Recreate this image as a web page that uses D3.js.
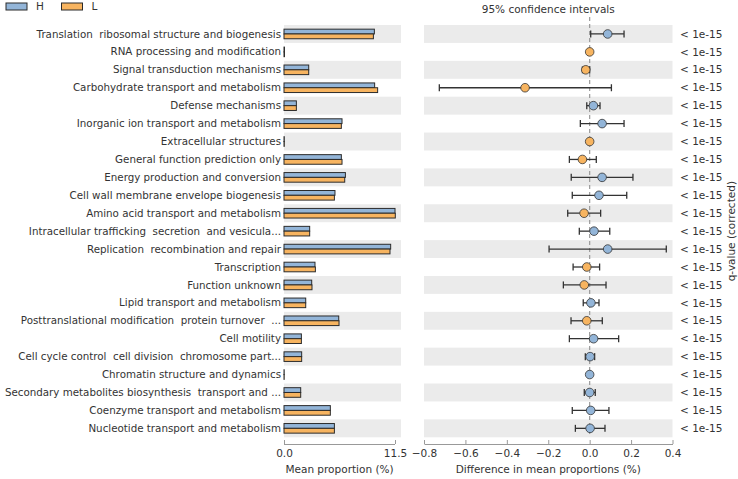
<!DOCTYPE html>
<html>
<head>
<meta charset="utf-8">
<script src="https://cdn.jsdelivr.net/npm/d3@7"></script>
<style>
  body { margin: 0; background: #fff; }
  svg { font-family: "DejaVu Sans", sans-serif; }
  svg text { white-space: pre; }
</style>
</head>
<body>
<svg id="chart" width="738" height="479"></svg>
<script>
// categories (top to bottom)
var categories = [
  "Translation  ribosomal structure and biogenesis",
  "RNA processing and modification",
  "Signal transduction mechanisms",
  "Carbohydrate transport and metabolism",
  "Defense mechanisms",
  "Inorganic ion transport and metabolism",
  "Extracellular structures",
  "General function prediction only",
  "Energy production and conversion",
  "Cell wall membrane envelope biogenesis",
  "Amino acid transport and metabolism",
  "Intracellular trafficking  secretion  and vesicula...",
  "Replication  recombination and repair",
  "Transcription",
  "Function unknown",
  "Lipid transport and metabolism",
  "Posttranslational modification  protein turnover  ...",
  "Cell motility",
  "Cell cycle control  cell division  chromosome part...",
  "Chromatin structure and dynamics",
  "Secondary metabolites biosynthesis  transport and ...",
  "Coenzyme transport and metabolism",
  "Nucleotide transport and metabolism"
];

// mean proportions (%)
var meanH = [9.36, 0.05, 2.56, 9.39, 1.28, 6.01, 0.03, 5.94, 6.36, 5.28, 11.5, 2.66,
             11.05, 3.21, 2.87, 2.25, 5.67, 1.8, 1.83, 0.02, 1.73, 4.8, 5.22];
var meanL = [9.26, 0.05, 2.56, 9.70, 1.28, 5.94, 0.03, 6.01, 6.29, 5.22, 11.53, 2.66,
             10.98, 3.25, 2.90, 2.25, 5.70, 1.8, 1.83, 0.02, 1.73, 4.8, 5.22];

// difference in mean proportions (%) and 95% CI
var diff  = [0.087, 0.0, -0.019, -0.312, 0.018, 0.06, 0.0, -0.035, 0.06, 0.045, -0.027, 0.021,
             0.087, -0.014, -0.026, 0.006, -0.014, 0.019, 0.002, 0.0, 0.0, 0.005, 0.002];
var ciLow = [0.005, 0.0, -0.035, -0.726, -0.014, -0.045, 0.0, -0.098, -0.089, -0.084, -0.106, -0.05,
             -0.196, -0.08, -0.127, -0.031, -0.09, -0.098, -0.021, 0.0, -0.026, -0.084, -0.069];
var ciHigh = [0.166, 0.0, 0.0, 0.105, 0.05, 0.166, 0.0, 0.032, 0.209, 0.179, 0.053, 0.097,
              0.37, 0.048, 0.079, 0.045, 0.061, 0.14, 0.024, 0.0, 0.027, 0.093, 0.074];
var enriched = ["H","L","L","L","H","H","L","L","H","H","L","H",
                "H","L","L","H","L","H","H","H","H","H","H"];
var qValues = categories.map(function() { return "< 1e-15"; });

var groups = ["H", "L"];
var colors = { H: "#93b5d8", L: "#f7b460" };

var svg = d3.select("#chart");
var textColor = "#333333";

var y = d3.scaleBand()
          .domain(d3.range(categories.length))
          .range([25, 437.3])
          .padding(0);

var xLeft = d3.scaleLinear()
              .domain([0, 12.12])
              .range([284, 401]);

var xRight = d3.scaleLinear()
               .domain([-0.8, 0.4])
               .range([424, 672.5]);

// stripes
var stripes = d3.range(categories.length).filter(function(i) { return i % 2 === 0; });
svg.append("g").selectAll("rect")
   .data(stripes)
   .enter().append("rect")
   .attr("x", xLeft.range()[0])
   .attr("y", function(i) { return y(i); })
   .attr("width", xLeft.range()[1] - xLeft.range()[0])
   .attr("height", y.bandwidth())
   .attr("fill", "#ebebeb");
svg.append("g").selectAll("rect")
   .data(stripes)
   .enter().append("rect")
   .attr("x", xRight.range()[0])
   .attr("y", function(i) { return y(i); })
   .attr("width", xRight.range()[1] - xRight.range()[0])
   .attr("height", y.bandwidth())
   .attr("fill", "#ebebeb");

// category labels
svg.append("g").selectAll("text")
   .data(categories)
   .enter().append("text")
   .attr("x", 281)
   .attr("y", function(d, i) { return y(i) + y.bandwidth() / 2; })
   .attr("dy", "0.35em")
   .attr("text-anchor", "end")
   .attr("font-size", "10.3px")
   .attr("fill", textColor)
   .text(function(d) { return d; });

// bars
var barH = 4.8;
var bars = svg.append("g");
bars.selectAll("rect.h")
    .data(meanH)
    .enter().append("rect")
    .attr("class", "h")
    .attr("x", xLeft(0))
    .attr("y", function(d, i) { return y(i) + y.bandwidth() / 2 - barH; })
    .attr("width", function(d) { return xLeft(d) - xLeft(0); })
    .attr("height", barH)
    .attr("fill", colors.H)
    .attr("stroke", "#2b2b2b")
    .attr("stroke-width", 1);
bars.selectAll("rect.l")
    .data(meanL)
    .enter().append("rect")
    .attr("class", "l")
    .attr("x", xLeft(0))
    .attr("y", function(d, i) { return y(i) + y.bandwidth() / 2; })
    .attr("width", function(d) { return xLeft(d) - xLeft(0); })
    .attr("height", barH)
    .attr("fill", colors.L)
    .attr("stroke", "#2b2b2b")
    .attr("stroke-width", 1);

// zero dashed line
svg.append("line")
   .attr("x1", xRight(0)).attr("x2", xRight(0))
   .attr("y1", 17).attr("y2", 437)
   .attr("stroke", "#999999")
   .attr("stroke-width", 1.2)
   .attr("stroke-dasharray", "4,3");

// confidence intervals
var ci = svg.append("g");
var capH = 3.5;
d3.range(categories.length).forEach(function(i) {
  var cy = y(i) + y.bandwidth() / 2;
  if (ciHigh[i] - ciLow[i] > 0.001) {
    ci.append("line")
      .attr("x1", xRight(ciLow[i])).attr("x2", xRight(ciHigh[i]))
      .attr("y1", cy).attr("y2", cy)
      .attr("stroke", "#333333").attr("stroke-width", 1.3);
    [ciLow[i], ciHigh[i]].forEach(function(v) {
      ci.append("line")
        .attr("x1", xRight(v)).attr("x2", xRight(v))
        .attr("y1", cy - capH).attr("y2", cy + capH)
        .attr("stroke", "#333333").attr("stroke-width", 1.3);
    });
  }
  ci.append("circle")
    .attr("cx", xRight(diff[i]))
    .attr("cy", cy)
    .attr("r", 4.3)
    .attr("fill", colors[enriched[i]])
    .attr("stroke", "#333333")
    .attr("stroke-width", 0.8);
});

// q-values
svg.append("g").selectAll("text")
   .data(qValues)
   .enter().append("text")
   .attr("x", 680)
   .attr("y", function(d, i) { return y(i) + y.bandwidth() / 2; })
   .attr("dy", "0.35em")
   .attr("font-size", "10.5px")
   .attr("fill", textColor)
   .text(function(d) { return d; });

svg.append("text")
   .attr("transform", "translate(731," + ((y.range()[0] + y.range()[1]) / 2) + ") rotate(-90)")
   .attr("text-anchor", "middle")
   .attr("dy", "0.35em")
   .attr("font-size", "10.5px")
   .attr("fill", textColor)
   .text("q-value (corrected)");

// axes
var axisY = 444;
function styleAxis(g) {
  g.select(".domain").attr("stroke", "#999999");
  g.selectAll(".tick line").attr("stroke", "#999999");
  g.selectAll(".tick text")
   .attr("fill", textColor)
   .attr("font-size", "10.5px")
   .attr("font-family", "DejaVu Sans, sans-serif")
   .attr("y", 6);
}
svg.append("g")
   .attr("transform", "translate(0," + axisY + ")")
   .call(d3.axisBottom(xLeft)
           .tickValues([0, 11.5])
           .tickFormat(d3.format(".1f"))
           .tickSizeInner(-4)
           .tickSizeOuter(0))
   .call(function(g) { g.select(".domain").attr("d", "M" + xLeft(0) + ",0.5H" + xLeft(11.5)); })
   .call(styleAxis);

svg.append("g")
   .attr("transform", "translate(0," + axisY + ")")
   .call(d3.axisBottom(xRight)
           .tickValues([-0.8, -0.6, -0.4, -0.2, 0, 0.2, 0.4])
           .tickFormat(d3.format(".1f"))
           .tickSizeInner(-4)
           .tickSizeOuter(0))
   .call(styleAxis);

svg.append("text")
   .attr("x", (xLeft(0) + xLeft(11.5)) / 2)
   .attr("y", 473)
   .attr("text-anchor", "middle")
   .attr("font-size", "10.5px")
   .attr("fill", textColor)
   .text("Mean proportion (%)");

svg.append("text")
   .attr("x", (xRight.range()[0] + xRight.range()[1]) / 2)
   .attr("y", 473)
   .attr("text-anchor", "middle")
   .attr("font-size", "10.5px")
   .attr("fill", textColor)
   .text("Difference in mean proportions (%)");

svg.append("text")
   .attr("x", (xRight.range()[0] + xRight.range()[1]) / 2)
   .attr("y", 13)
   .attr("text-anchor", "middle")
   .attr("font-size", "10.5px")
   .attr("fill", textColor)
   .text("95% confidence intervals");

// legend
var legend = svg.append("g").selectAll("g")
   .data(groups)
   .enter().append("g")
   .attr("transform", function(d, i) { return "translate(" + (6 + i * 55.5) + ",3)"; });
legend.append("rect")
   .attr("width", 21).attr("height", 7)
   .attr("fill", function(d) { return colors[d]; })
   .attr("stroke", "#2b2b2b").attr("stroke-width", 1);
legend.append("text")
   .attr("x", 30).attr("y", 3.5).attr("dy", "0.35em")
   .attr("font-size", "10.5px")
   .attr("fill", textColor)
   .text(function(d) { return d; });
</script>
</body>
</html>
